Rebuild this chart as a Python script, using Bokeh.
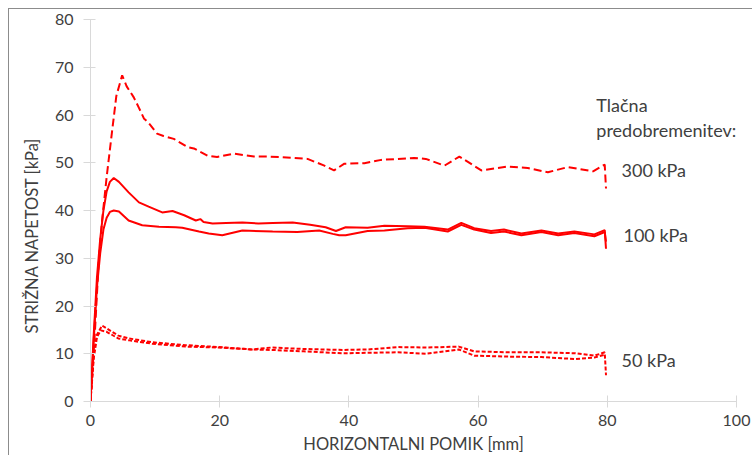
from bokeh.plotting import figure
from bokeh.models import Range1d, FixedTicker, Title, ColumnDataSource
from bokeh.core.properties import value
from bokeh.embed import file_html
from bokeh.resources import INLINE

# ---- data ----
s300_x = [0, 0.7, 1.3, 1.8, 2.5, 3.2, 4.0, 4.9, 5.6, 6.7, 7.5, 8.3, 8.9, 10.3, 11.3, 12.9, 15.0, 16.0,
          18.1, 19.6, 22.2, 25.3, 27.4, 29.5, 33.6, 36.2, 37.7, 39.3, 42.4, 45.0, 50.1, 51.9, 54.8,
          57.1, 60.5, 64.6, 67.7, 70.8, 73.9, 77.8, 79.6, 79.8]
s300_y = [0, 15, 30, 38, 47, 55, 64, 68.3, 66, 63.7, 61.5, 59.2, 58.5, 56.1, 55.6, 55.0, 53.3, 53.0,
          51.5, 51.2, 51.9, 51.3, 51.3, 51.2, 50.8, 49.4, 48.4, 49.8, 49.9, 50.6, 51.0, 50.8, 49.4,
          51.3, 48.4, 49.2, 48.9, 48.0, 49.1, 48.2, 49.6, 44.6]

s100a_x = [0, 0.5, 1.0, 1.5, 2.0, 2.5, 3.0, 3.6, 4.4, 5.9, 7.5, 9.0, 11.1, 12.7, 14.5, 16.3, 17.0,
           17.5, 18.9, 21, 23.5, 26, 28.2, 31.3, 34, 36.4, 38.0, 39.5, 42.9, 45.5, 49.1, 51.7, 55.3,
           57.4, 59.4, 62, 64, 66.7, 69.8, 72.4, 74.9, 78, 79.6, 79.8]
s100a_y = [0, 14, 26, 34, 40, 44, 46, 46.8, 46.0, 43.8, 41.7, 40.8, 39.6, 39.9, 39.0, 37.9, 38.2,
           37.6, 37.3, 37.4, 37.5, 37.3, 37.4, 37.5, 37.0, 36.5, 35.7, 36.5, 36.4, 36.8, 36.7, 36.6,
           36.0, 37.4, 36.3, 35.7, 36.0, 35.2, 35.8, 35.2, 35.6, 35.0, 35.9, 32.0]

s100b_x = [0, 0.5, 1.0, 1.5, 2.0, 2.5, 3.0, 3.6, 4.4, 5.9, 8.0, 10.6, 13.2, 14.2, 16.8, 18.3, 20.4,
           23.5, 28.2, 32, 35.4, 37.5, 38.5, 39.5, 42.9, 45.5, 49.1, 51.7, 55.3, 57.4, 59.4, 62, 64,
           66.7, 69.8, 72.4, 74.9, 78, 79.6, 79.8]
s100b_y = [0, 13, 24, 31, 36, 38.5, 39.7, 40.0, 39.8, 37.9, 36.9, 36.6, 36.5, 36.4, 35.6, 35.2, 34.8,
           35.8, 35.6, 35.5, 35.8, 35.1, 34.8, 34.8, 35.7, 35.8, 36.3, 36.4, 35.6, 37.0, 36.0, 35.3,
           35.6, 34.8, 35.5, 34.8, 35.3, 34.6, 35.5, 33.5]

s50a_x = [0, 0.5, 1.0, 1.8, 2.5, 4.3, 6, 9.6, 14.7, 19.8, 25, 28, 33, 39, 43, 47.6, 52, 57, 59.4,
          64.6, 69.8, 75, 78, 79.6, 79.8]
s50a_y = [0, 10, 14, 15.9, 15.3, 13.8, 13.2, 12.4, 11.8, 11.4, 10.9, 11.3, 11.0, 10.8, 10.9, 11.4,
          11.3, 11.5, 10.5, 10.3, 10.3, 10.1, 9.6, 10.3, 5.5]

s50b_x = [0, 0.5, 1.0, 1.6, 2.5, 4.3, 6, 9.6, 14.7, 19.8, 25, 28, 33, 39, 43, 47.6, 52, 57, 59.4,
          64.6, 69.8, 75, 78, 79.6]
s50b_y = [0, 9, 13.5, 14.9, 14.6, 13.2, 12.8, 12.1, 11.5, 11.3, 10.9, 10.8, 10.5, 10.1, 10.2, 10.3,
          10.0, 10.9, 9.6, 9.4, 9.3, 8.9, 9.2, 9.8]

x_ticks = [0, 20, 40, 60, 80, 100]
y_ticks = [0, 10, 20, 30, 40, 50, 60, 70, 80]

x_title = "HORIZONTALNI POMIK [mm]"
y_title = "STRIŽNA NAPETOST [kPa]"

note_text = ["Tlačna", "predobremenitev:", "300 kPa", "100 kPa", "50 kPa"]
note_x = [78.3, 78.3, 82.2, 82.5, 82.2]
note_y = [62.0, 56.9, 48.4, 34.8, 8.6]

# ---- figure ----
FONT = "Lato"
TXT = "#404040"
GRID = "#d9d9d9"

p = figure(width=744, height=447, output_backend="svg", toolbar_location=None,
           x_range=Range1d(0, 100), y_range=Range1d(0, 80),
           min_border_left=81, min_border_right=17, min_border_top=10, min_border_bottom=55)
p.styles = {"margin-left": "8px", "margin-top": "8px",
            "border-left": "1px solid #8c8c8c", "border-top": "1px solid #8c8c8c"}
p.outline_line_color = None
p.xgrid.grid_line_color = None
p.ygrid.grid_line_color = None
p.background_fill_color = "white"
p.border_fill_color = "white"

p.xaxis.ticker = FixedTicker(ticks=x_ticks)
p.yaxis.ticker = FixedTicker(ticks=y_ticks)
for ax in (p.xaxis[0], p.yaxis[0]):
    ax.axis_line_color = GRID
    ax.major_tick_line_color = GRID
    ax.minor_tick_line_color = None
    ax.major_label_text_font = FONT
    ax.major_label_text_font_size = "16px"
    ax.major_label_text_color = TXT
p.xaxis.major_tick_out = 6
p.xaxis.major_tick_in = 6
p.xaxis.major_label_standoff = 7
p.yaxis.major_tick_out = 7
p.yaxis.major_tick_in = 5
p.yaxis.major_label_standoff = 10

p.xaxis.axis_label = x_title
p.xaxis.axis_label_text_font = FONT
p.xaxis.axis_label_text_font_size = "16.5px"
p.xaxis.axis_label_text_font_style = "normal"
p.xaxis.axis_label_text_color = TXT
p.xaxis.axis_label_standoff = 5

RED = "#ff0000"
p.line(s300_x, s300_y, line_color=RED, line_width=2, line_dash="8 4")
p.line(s100a_x, s100a_y, line_color=RED, line_width=2)
p.line(s100b_x, s100b_y, line_color=RED, line_width=2)
p.line(s50a_x, s50a_y, line_color=RED, line_width=2, line_dash="4 2")
p.line(s50b_x, s50b_y, line_color=RED, line_width=2, line_dash="4 2")

src = ColumnDataSource(dict(x=note_x, y=note_y, t=note_text))
p.text(x="x", y="y", text="t", source=src, text_font=value(FONT), text_font_size="18px",
       text_color=TXT, text_baseline="middle", text_align="left")

# vertical axis title (side panel title, shifted down like the reference)
yt = Title(text=y_title, align="left", offset=68, text_font=FONT, text_font_size="16.5px",
           text_font_style="normal", text_color=TXT, standoff=19)
p.add_layout(yt, "left")

open("out.html", "w").write(file_html(p, INLINE))
